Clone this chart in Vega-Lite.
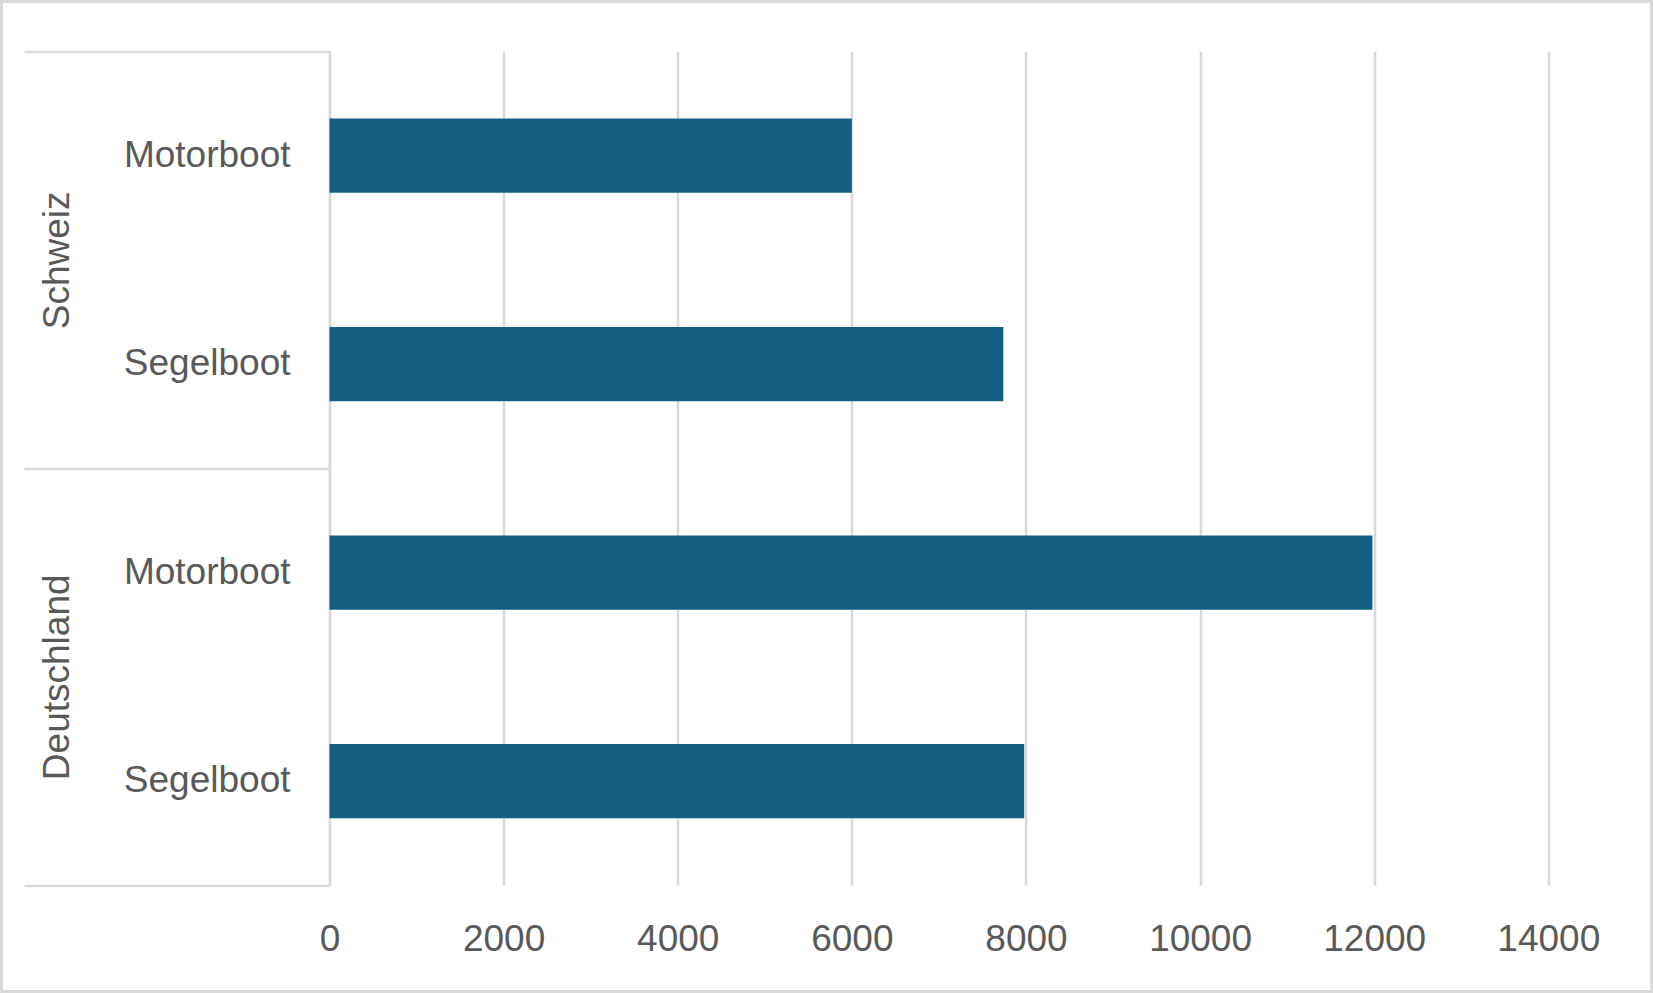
{
  "$schema": "https://vega.github.io/schema/vega-lite/v6.json",
  "width": 1650,
  "height": 990,
  "padding": 1.5,
  "autosize": {"type": "none"},
  "background": "white",
  "config": {
    "view": {"stroke": "#d9d9d9", "strokeWidth": 3},
    "font": "Liberation Sans",
    "axis": {"labelFont": "Liberation Sans"}
  },
  "data": {
    "values": [
      {"Land": "Schweiz", "Boot": "Motorboot", "Kategorie": "Schweiz|Motorboot", "Wert": 6000},
      {"Land": "Schweiz", "Boot": "Segelboot", "Kategorie": "Schweiz|Segelboot", "Wert": 7740},
      {"Land": "Deutschland", "Boot": "Motorboot", "Kategorie": "Deutschland|Motorboot", "Wert": 11980},
      {"Land": "Deutschland", "Boot": "Segelboot", "Kategorie": "Deutschland|Segelboot", "Wert": 7980}
    ]
  },
  "layer": [
    {
      "mark": {"type": "tick", "opacity": 0},
      "encoding": {
        "y": {
          "field": "Land",
          "type": "nominal",
          "scale": {"range": [106.2, 940.2], "paddingInner": 0, "paddingOuter": 0},
          "axis": null
        },
        "x": {
          "field": "Wert",
          "type": "quantitative",
          "scale": {"domain": [0, 14000], "range": [328, 1546.8], "nice": false, "zero": true},
          "axis": {
            "orient": "bottom",
            "offset": -106.2,
            "values": [0, 2000, 4000, 6000, 8000, 10000, 12000, 14000],
            "format": "d",
            "title": null,
            "domain": false,
            "ticks": false,
            "tickSize": 0,
            "grid": true,
            "gridColor": "#d9d9d9",
            "gridWidth": 2.5,
            "labelFlush": false,
            "labelOverlap": false,
            "labelFontSize": 37,
            "labelColor": "#595959",
            "labelPadding": 36
          }
        }
      }
    },
    {
      "mark": {"type": "bar", "color": "#156082"},
      "encoding": {
        "y": {
          "field": "Kategorie",
          "type": "nominal",
          "sort": null,
          "scale": {"range": [49.8, 883.8], "paddingInner": 0.644, "paddingOuter": 0.322},
          "axis": {
            "orient": "left",
            "offset": -328,
            "title": null,
            "labelExpr": "split(datum.label, '|')[1]",
            "labelFontSize": 37,
            "labelColor": "#595959",
            "labelPadding": 39.5,
            "labelLimit": 0,
            "ticks": false,
            "tickSize": 0,
            "domain": true,
            "domainColor": "#d9d9d9",
            "domainWidth": 2.5,
            "grid": false
          }
        },
        "x": {
          "field": "Wert",
          "type": "quantitative",
          "axis": null
        }
      }
    },
    {
      "mark": {"type": "tick", "opacity": 0},
      "encoding": {
        "y": {
          "field": "Land",
          "type": "nominal",
          "sort": ["Schweiz", "Deutschland"],
          "scale": {"range": [49.8, 883.8], "paddingInner": 0, "paddingOuter": 0},
          "axis": {
            "orient": "left",
            "offset": -328,
            "title": null,
            "tickBand": "extent",
            "ticks": true,
            "tickSize": 305.5,
            "tickColor": "#d9d9d9",
            "tickWidth": 2.5,
            "domain": false,
            "grid": false,
            "labelAngle": 270,
            "labelAlign": "center",
            "labelBaseline": "alphabetic",
            "labelPadding": -44.3,
            "labelLimit": 0,
            "labelFontSize": 37,
            "labelColor": "#595959"
          }
        }
      }
    }
  ],
  "resolve": {"scale": {"y": "independent"}, "axis": {"y": "independent", "x": "independent"}}
}
